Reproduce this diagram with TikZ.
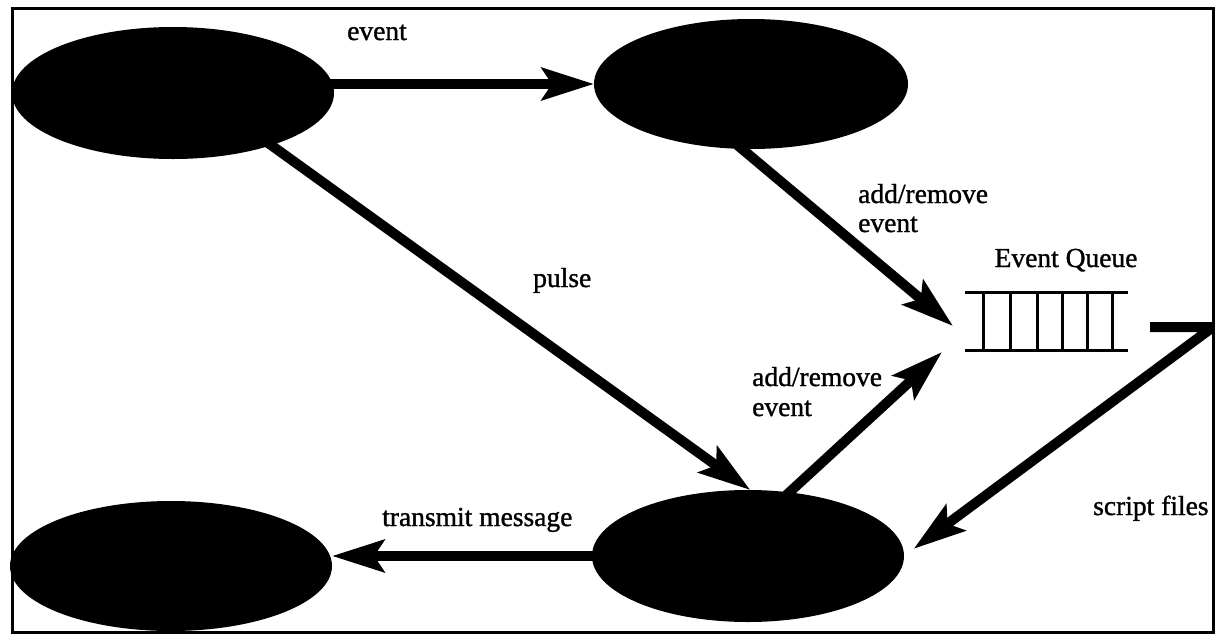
\documentclass[tikz,border=0pt]{standalone}
\usepackage{fontspec}
\setmainfont{Liberation Serif}
\newfontfamily\lblfont[BoldFont={Liberation Serif}, BoldFeatures={FakeBold=1.2}]{Liberation Serif}
\usetikzlibrary{shapes.geometric,arrows.meta}
\begin{document}
\begin{tikzpicture}[x=1pt,y=-1pt,
  blob/.style={ellipse, fill=black, draw=none, inner sep=0pt, outer sep=0pt},
  arr/.style={line width=10pt, -{Stealth[length=52pt,width=32pt,inset=10pt]}},
  fromblob/.style={shorten <=-6pt},
  lbl/.style={anchor=base west, inner sep=0pt, font=\lblfont\bfseries\fontsize{27.5}{30}\selectfont},
  qline/.style={line width=3pt}]
\useasboundingbox (0,0) rectangle (1215,635);
% frame
\draw[line width=3pt] (12,8) rectangle (1213,632);
% blobs
\node[blob, minimum width=322pt, minimum height=132pt] (e1) at (173,93) {};
\node[blob, minimum width=314pt, minimum height=130pt] (e2) at (751,84) {};
\node[blob, minimum width=312pt, minimum height=132pt] (e3) at (748,556) {};
\node[blob, minimum width=322pt, minimum height=130pt] (e4) at (171,566) {};
% event queue
\node[minimum width=163pt, minimum height=58pt, inner sep=0pt, outer sep=0pt] (queue) at (1046.5,321) {};
\draw[qline] (queue.north west) -- (queue.north east);
\draw[qline] (queue.south west) -- (queue.south east);
\foreach \x in {983,1010,1037,1062,1087,1112}
  \draw[qline] (\x,292) -- (\x,350);
\node[lbl, anchor=base] (qlabel) at (1066,267) {Event Queue};
% free ends
\coordinate (qa) at (953,326);
\coordinate (qb) at (942,352);
\coordinate (qc) at (1150,327);
\coordinate (qr) at (1213,327);
% connectors
\draw[arr, fromblob] (e1.east |- e2.west) -- (e2.west);
\draw[arr, fromblob] (e1.-28) -- (e3.88);
\draw[arr, fromblob] (e2.-98) -- (qa);
\draw[arr, fromblob] (e3.57) -- (qb);
\draw[arr, line join=round, shorten >=12pt] (qc) -- (qr) -- (e3.east);
\draw[arr, fromblob] (e3.west) -- (e3.west -| e4.east);
% labels
\node[lbl] (l1) at (347,40) {event};
\node[lbl] (l2) at (533,287) {pulse};
\node[lbl] (l3a) at (858,203) {add/remove};
\node[lbl] (l3b) at (858,232) {event};
\node[lbl] (l4a) at (752,386) {add/remove};
\node[lbl] (l4b) at (752,416) {event};
\node[lbl] (l5) at (1093,515) {script files};
\node[lbl] (l6) at (382,526) {transmit message};
\end{tikzpicture}
\end{document}
